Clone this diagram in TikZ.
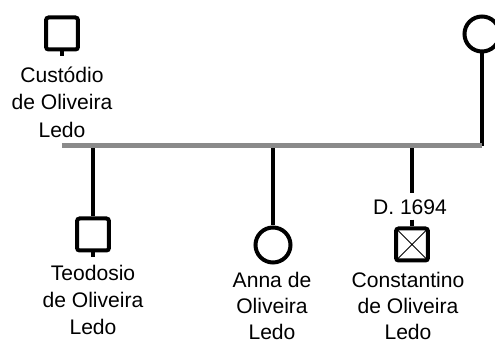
\documentclass[tikz,border=0pt]{standalone}
\usepackage{fontspec}
\setmainfont{Liberation Sans}
\definecolor{barGray}{HTML}{8A8A8A}
\begin{document}
\begin{tikzpicture}[x=0.02cm, y=-0.02cm,
    male/.style={draw, rectangle, rounded corners=1.5pt, line width=0.08cm, minimum size=0.64cm, inner sep=0pt},
    female/.style={draw, circle, line width=0.08cm, minimum size=0.70cm, inner sep=0pt},
    deceased/.style={path picture={\draw[line width=0.5pt] (path picture bounding box.north west) -- (path picture bounding box.south east) (path picture bounding box.north east) -- (path picture bounding box.south west);}},
    nametext/.style={align=center, anchor=north, inner sep=0pt, font=\fontsize{12}{15.6}\selectfont},
    lowtext/.style={nametext, font=\fontsize{12}{14.8}\selectfont},
    drop/.style={line width=0.08cm},
    sibline/.style={line width=0.1cm, draw=barGray}]
  \useasboundingbox (0,0) rectangle (495,344);

  % Parents
  \node[male] (custodio) at (62,33.5) {};
  \node[female] (spouse) at (482,34) {};
  \node[nametext] (custodioName) at (62,66.5) {Custódio\\de Oliveira\\Ledo};

  % Children
  \node[male] (teodosio) at (93,234.5) {};
  \node[female] (anna) at (273,245) {};
  \node[male, deceased] (constantino) at (412,244.5) {};
  \node[nametext] (teodosioName) at (93,264.5) {Teodosio\\de Oliveira\\Ledo};
  \node[lowtext] (annaName) at (272,272) {Anna de\\Oliveira\\Ledo};
  \node[lowtext] (constantinoName) at (408,272) {Constantino\\de Oliveira\\Ledo};
  \node[nametext, anchor=base] (constantinoDeath) at (410,215) {D. 1694};

  % Sibling line ends
  \coordinate (barL) at (62,146);
  \coordinate (barR) at (482,146);

  % Drops to the sibling line
  \draw[drop] (spouse.south) -- (spouse.south |- barR);
  \draw[drop] (teodosio.north |- barL) -- (teodosio.north);
  \draw[drop] (anna.north |- barL) -- (anna.north);
  \draw[drop] (constantino.north |- barL) -- ++(0,47);
  \draw[drop] (constantinoDeath.south -| constantino.north) ++(0,4) -- (constantino.north);

  % Short ticks under the squares
  \draw[drop] (custodio.south) -- ++(0,5);
  \draw[drop] (teodosio.south) -- ++(0,5);

  % Sibling line
  \draw[sibline] (barL) -- (barR);
\end{tikzpicture}
\end{document}
